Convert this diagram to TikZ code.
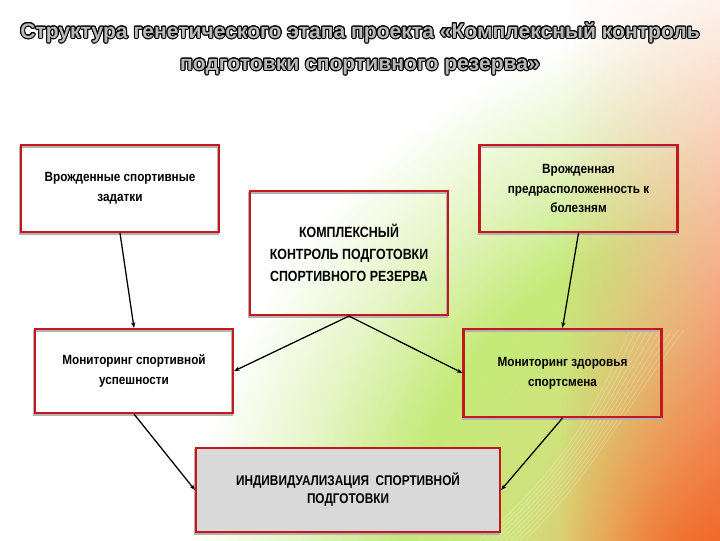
\documentclass[tikz,border=0pt]{standalone}
\usepackage{fontspec}
\setmainfont{Liberation Sans}
\newfontfamily\boxfont[FakeStretch=0.88]{Liberation Sans}
\newfontfamily\capsfont[FakeStretch=0.84]{Liberation Sans}
\usepackage{contour}
\contourlength{0.7pt}
\usetikzlibrary{arrows.meta, positioning, fadings}
\definecolor{boxred}{HTML}{C8161D}
\definecolor{boxgray}{HTML}{D9D9D9}
\definecolor{glowA}{HTML}{F0641E}
\definecolor{glowB}{HTML}{F28A45}
\definecolor{glowC}{HTML}{E6BE6A}
\definecolor{glowD}{HTML}{CFE27C}
\definecolor{glowE}{HTML}{C4EA78}
\definecolor{glowF}{HTML}{E4F5C4}
\definecolor{peachA}{HTML}{FDF3EC}
\definecolor{peachB}{HTML}{F7D0B2}
\definecolor{orangeA}{HTML}{F06A2A}
\pgfdeclareradialshading{glow}{\pgfpoint{0bp}{0bp}}{color(0bp)=(glowA); color(3bp)=(glowB); color(6.25bp)=(glowC); color(10bp)=(glowD); color(14.5bp)=(glowE); color(18.75bp)=(glowF); color(23bp)=(white); color(50bp)=(white)}
\tikzfading[name=fadeleft, left color=transparent!100, right color=transparent!0]

\begin{document}
\begin{tikzpicture}[x=0.025cm, y=-0.025cm,
  box/.style={draw=boxred, line width=1.5pt, align=center,
    font=\boxfont\bfseries\fontsize{9.5}{14}\selectfont, minimum width=4.95cm,
    preaction={draw=black!30, line width=1.5pt, transform canvas={shift={(-0.5pt,-1.2pt)}}}},
  arr/.style={-{Stealth[length=4pt,width=3pt]}, line width=0.9pt, black}]
  \useasboundingbox (0,0) rectangle (720,540);

  % Background glow
  \fill[white] (0,0) rectangle (720,540);
  \begin{scope}
    \clip (0,0) rectangle (720,540);
    \shade[shading=glow] (760,580) circle (15.5cm);
    \shade[top color=peachA, middle color=peachB, bottom color=orangeA, path fading=fadeleft] (560,0) rectangle (720,540);
    \foreach \i in {0,...,9}
      \draw[white, opacity=0.3, line width=0.4pt] (480+5*\i,540) .. controls (560+4*\i,470) and (590+3*\i,420) .. (630+6*\i,330);
  \end{scope}

  % Title
  \node[font=\bfseries\fontsize{15}{22.8}\selectfont, align=center] (title) at (360,49) {
    \contour{black}{\textcolor{gray!55}{Структура генетического этапа проекта «Комплексный контроль}}\\
    \contour{black}{\textcolor{gray!55}{подготовки спортивного резерва»}}
  };

  % Boxes
  \node[box, minimum height=2.175cm] (zadatki) at (120,188.5) {Врожденные спортивные\\задатки};
  \node[box, minimum height=2.175cm] (bolezni) at (578.5,188.5) {Врожденная\\предрасположенность к\\болезням};
  \node[box, minimum height=3.1cm, font=\capsfont\bfseries\fontsize{10.5}{15.6}\selectfont] (kontrol) at (349,253) {КОМПЛЕКСНЫЙ\\КОНТРОЛЬ ПОДГОТОВКИ\\СПОРТИВНОГО РЕЗЕРВА};
  \node[box, minimum height=2.1cm] (uspeh) at (134,371) {Мониторинг спортивной\\успешности};
  \node[box, minimum height=2.2cm] (zdorov) at (562.5,373) {Мониторинг здоровья\\спортсмена};
  \node[box, fill=boxgray, minimum width=7.6cm, minimum height=2.1cm, font=\capsfont\bfseries\fontsize{10}{12.8}\selectfont] (individ) at (348,490) {ИНДИВИДУАЛИЗАЦИЯ\ \ СПОРТИВНОЙ\\ПОДГОТОВКИ};

  % Arrows
  \draw[arr] (zadatki.south) -- (uspeh.north);
  \draw[arr] (bolezni.south) -- (zdorov.north);
  \draw[arr] (kontrol.south) -- (uspeh.east);
  \draw[arr] (kontrol.south) -- (zdorov.west);
  \draw[arr] (uspeh.south) -- (individ.west);
  \draw[arr] (zdorov.south) -- (individ.east);
\end{tikzpicture}
\end{document}
